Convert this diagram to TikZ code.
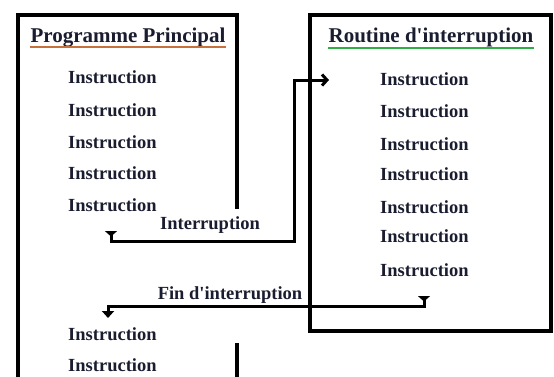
\documentclass[tikz,border=0pt]{standalone}
\usepackage{fontspec}
\setmainfont{Liberation Serif}
\usetikzlibrary{arrows.meta,positioning}

\definecolor{encre}{HTML}{1A1D30}
\definecolor{soulorange}{HTML}{C8703C}
\definecolor{soulvert}{HTML}{2EAE44}

\begin{document}
\begin{tikzpicture}[x=1pt,y=-1pt,
	instr/.style={font=\fontsize{18.5}{19}\selectfont\bfseries, text=encre, anchor=west, inner sep=0pt},
	titre/.style={font=\fontsize{21}{22}\selectfont\bfseries, text=encre, anchor=base, inner sep=0pt},
	cadre/.style={line width=3.3pt},
	fleche/.style={line width=3pt}]
	\useasboundingbox (0,0) rectangle (554,376);
	% programme principal
	\draw[cadre] (18,380) -- (18,15) -- (237,15) -- (237,209);
	\draw[cadre] (237,343) -- (237,380);
	\node[titre] (titreP) at (128,42) {Programme Principal};
	\draw[soulorange, line width=2.5pt] ([yshift=-5pt]titreP.base west) -- ([yshift=-5pt]titreP.base east);
	\foreach \y [count=\i] in {77,110,142,173,205,334,365}
		\node[instr] (pp\i) at (68,\y) {Instruction};
	% routine d'interruption
	\draw[cadre] (310,15) rectangle (551,331);
	\node[titre] (titreR) at (431,42) {Routine d\textquotesingle interruption};
	\draw[soulvert, line width=2.5pt] ([yshift=-6pt]titreR.base west) -- ([yshift=-6pt]titreR.base east);
	\foreach \y [count=\i] in {79,111,144,174,207,236,270}
		\node[instr] (ri\i) at (380,\y) {Instruction};
	% fleches
	\coordinate (intDep) at (111,231);
	\coordinate (intCoin) at (294,241);
	\coordinate (intArr) at (329,80);
	\draw[fleche, {Triangle[reversed,length=5.5pt,width=12pt]}-{Straight Barb[length=5pt,width=11pt]}] (intDep) |- (intCoin) |- (intArr);
	\node[instr, anchor=center] (lblInt) at (210,225) {Interruption};
	\coordinate (finDep) at (424,296);
	\coordinate (finCoin) at (108,306);
	\coordinate (finArr) at (108,318);
	\draw[fleche, {Triangle[reversed,length=5.5pt,width=12pt]}-{Triangle[length=7pt,width=12pt]}] (finDep) |- (finCoin) -- (finArr);
	\node[instr, anchor=center] (lblFin) at (230,295) {Fin d\textquotesingle interruption};
\end{tikzpicture}
\end{document}
